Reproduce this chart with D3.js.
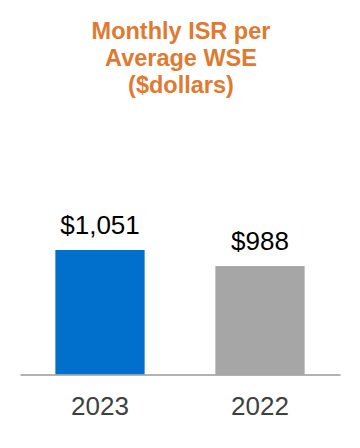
<!DOCTYPE html>
<html>
<head>
<meta charset="utf-8">
<script src="https://cdn.jsdelivr.net/npm/d3@7"></script>
<style>
  html, body { margin: 0; padding: 0; background: #fff; }
  svg { display: block; }
</style>
</head>
<body>
<svg id="chart" width="360" height="448"></svg>
<script>
const titleLines = ["Monthly ISR per", "Average WSE", "($dollars)"];
const categories = ["2023", "2022"];
const values = [1051, 988];
const valueLabels = ["$1,051", "$988"];
const barColors = ["#0070CC", "#A6A6A6"];

const svg = d3.select("#chart");
const font = "Liberation Sans, Arial, Helvetica, sans-serif";

// Title
svg.append("g").selectAll("text")
  .data(titleLines)
  .join("text")
  .attr("x", 181)
  .attr("y", (d, i) => 38.5 + i * 27)
  .attr("text-anchor", "middle")
  .attr("font-family", font)
  .attr("font-weight", "bold")
  .attr("font-size", 23.5)
  .attr("fill", "#E07A30")
  .text(d => d);

// Scales
const x = d3.scaleBand().domain(categories).range([20, 340]).paddingInner(0.442).paddingOuter(0.221);
const y = d3.scaleLinear().domain([563, 1051]).range([374.5, 250]);

// Bars
svg.append("g").selectAll("rect")
  .data(categories)
  .join("rect")
  .attr("x", d => x(d))
  .attr("width", x.bandwidth())
  .attr("y", (d, i) => y(values[i]))
  .attr("height", (d, i) => y.range()[0] - y(values[i]))
  .attr("fill", (d, i) => barColors[i]);

// Value labels
svg.append("g").selectAll("text")
  .data(categories)
  .join("text")
  .attr("x", d => x(d) + x.bandwidth() / 2)
  .attr("y", (d, i) => y(values[i]) - 16.5)
  .attr("text-anchor", "middle")
  .attr("font-family", font)
  .attr("font-size", 26)
  .attr("fill", "#000")
  .text((d, i) => valueLabels[i]);

// Axis
const axis = svg.append("g")
  .attr("transform", `translate(0,${y.range()[0]})`)
  .call(d3.axisBottom(x).tickSize(0).tickPadding(14));
axis.select(".domain").attr("stroke", "#999").attr("stroke-width", 1.5);
axis.selectAll(".tick text")
  .attr("font-family", font)
  .attr("font-size", 26)
  .attr("fill", "#404040")
  .attr("dy", null)
  .attr("y", 40.5);
</script>
</body>
</html>
